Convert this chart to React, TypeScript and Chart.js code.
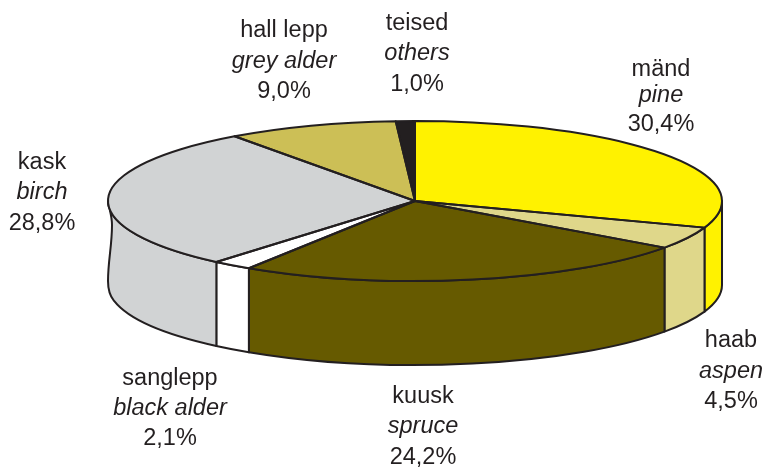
import React, { useEffect, useRef } from "react";
import { Chart, registerables } from "chart.js";

Chart.register(...registerables);

const estonianNames = ["mänd", "haab", "kuusk", "sanglepp", "kask", "hall lepp", "teised"];
const englishNames = ["pine", "aspen", "spruce", "black alder", "birch", "grey alder", "others"];
const shares = [30.4, 4.5, 24.2, 2.1, 28.8, 9.0, 1.0];
const sliceColors = ["#FFF200", "#DFD78A", "#665A00", "#FFFFFF", "#D1D3D4", "#CCBF56", "#231F20"];
const labelX = [661, 731, 423, 170, 42, 284, 417];
const labelY = [
  [76, 102, 131],
  [347, 378, 408],
  [403, 433, 464],
  [385, 415, 445],
  [169, 199, 230],
  [37, 68, 98],
  [30, 60, 91],
];

const CX = 415;
const CY = 201;
const RX = 307;
const RY = 80;
const DEPTH = 84;
const INK = "#231F20";
const FONT = '"Liberation Sans", Arial, sans-serif';
const LINE = 2;
const FONT_SIZE = 23.5;
const JOIN = Math.PI - 0.2;

// Hand-drawn left edge of the drum: from the top rim down to the bottom rim.
function leftEdgeDown(ctx: any) {
  const L = CX - RX;
  ctx.bezierCurveTo(L + 1, CY + 8, L + 4, CY + 14, L + 4, CY + 24);
  ctx.bezierCurveTo(L + 4, CY + 45, L, CY + 60, L, CY + 80);
  ctx.bezierCurveTo(L, CY + 88, L + 2, CY + 95, L + 6, CY + DEPTH + RY * Math.sin(JOIN));
}

const pie3d = {
  id: "pie3d",
  beforeDatasetsDraw(chart: any) {
    const { ctx } = chart;
    const arcs = chart.getDatasetMeta(0).data;
    ctx.save();
    ctx.lineWidth = LINE;
    ctx.strokeStyle = INK;
    ctx.lineJoin = "round";
    arcs.forEach((arc: any, i: number) => {
      const a1 = Math.max(arc.startAngle, 0);
      const a2 = Math.min(arc.endAngle, Math.PI);
      if (a2 <= a1) return;
      const reachesLeft = a2 === Math.PI;
      ctx.beginPath();
      ctx.ellipse(CX, CY, RX, RY, 0, a1, a2);
      if (reachesLeft) {
        leftEdgeDown(ctx);
        ctx.ellipse(CX, CY + DEPTH, RX, RY, 0, JOIN, a1, true);
      } else {
        ctx.ellipse(CX, CY + DEPTH, RX, RY, 0, a2, a1, true);
      }
      ctx.closePath();
      ctx.fillStyle = sliceColors[i];
      ctx.fill();
      ctx.stroke();
    });
    ctx.restore();

    const first = arcs[0];
    ctx.save();
    ctx.translate(CX, CY);
    ctx.scale(RX / first.outerRadius, RY / first.outerRadius);
    ctx.translate(-first.x, -first.y);
  },
  afterDatasetsDraw(chart: any) {
    const { ctx } = chart;
    ctx.restore();
    const arcs = chart.getDatasetMeta(0).data;
    ctx.save();
    ctx.lineWidth = LINE;
    ctx.strokeStyle = INK;
    ctx.lineJoin = "round";
    arcs.forEach((arc: any) => {
      ctx.beginPath();
      ctx.moveTo(CX, CY);
      ctx.ellipse(CX, CY, RX, RY, 0, arc.startAngle, arc.endAngle);
      ctx.closePath();
      ctx.stroke();
    });
    ctx.fillStyle = INK;
    ctx.textAlign = "center";
    ctx.textBaseline = "alphabetic";
    shares.forEach((share, i) => {
      const pct = share.toFixed(1).replace(".", ",") + "%";
      ctx.font = `${FONT_SIZE}px ${FONT}`;
      ctx.fillText(estonianNames[i], labelX[i], labelY[i][0]);
      ctx.font = `italic ${FONT_SIZE}px ${FONT}`;
      ctx.fillText(englishNames[i], labelX[i], labelY[i][1]);
      ctx.font = `${FONT_SIZE}px ${FONT}`;
      ctx.fillText(pct, labelX[i], labelY[i][2]);
    });
    ctx.restore();
  },
};

export default function App() {
  const ref = useRef<HTMLCanvasElement>(null);
  useEffect(() => {
    document.body.style.margin = "0";
    const chart = new Chart(ref.current as HTMLCanvasElement, {
      type: "pie",
      data: {
        labels: estonianNames,
        datasets: [{ data: shares, backgroundColor: sliceColors, borderWidth: 0 }],
      },
      options: {
        responsive: false,
        animation: false,
        devicePixelRatio: 1,
        events: [],
        layout: { padding: 0 },
        plugins: { legend: { display: false }, tooltip: { enabled: false } },
      },
      plugins: [pie3d],
    } as any);
    return () => chart.destroy();
  }, []);
  return <canvas ref={ref} width={768} height={467} style={{ display: "block", width: 768, height: 467 }} />;
}
